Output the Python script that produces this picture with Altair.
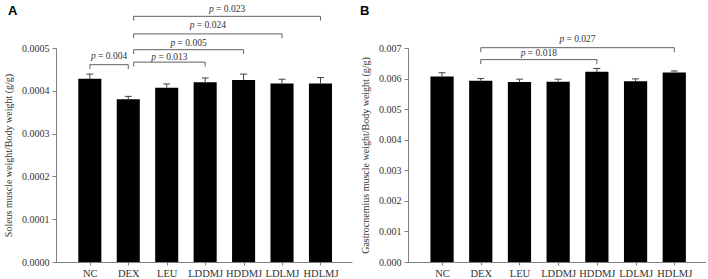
import json

import altair as alt
import pandas as pd

# Treatment groups shown on both panels
groups = ["NC", "DEX", "LEU", "LDDMJ", "HDDMJ", "LDLMJ", "HDLMJ"]

# Panel A: soleus muscle weight / body weight (g/g), mean and SEM
soleus_mean = [0.000428, 0.000380, 0.000407, 0.000420, 0.000425, 0.000417, 0.000417]
soleus_sem = [0.000011, 0.000007, 0.000009, 0.000010, 0.000014, 0.000010, 0.000014]
soleus_pairs = [("NC", "DEX"), ("DEX", "LDDMJ"), ("DEX", "HDDMJ"), ("DEX", "LDLMJ"), ("DEX", "HDLMJ")]
soleus_p = ["0.004", "0.013", "0.005", "0.024", "0.023"]
soleus_bracket_y = [0.000461, 0.000467, 0.000496, 0.000533, 0.000574]
soleus_label_y = [0.000482, 0.000480, 0.000512, 0.000553, 0.000590]
soleus_ticks = [0.0, 0.0001, 0.0002, 0.0003, 0.0004, 0.0005]

# Panel B: gastrocnemius muscle weight / body weight (g/g), mean and SEM
gastro_mean = [0.00607, 0.00593, 0.00589, 0.00590, 0.00622, 0.00591, 0.00620]
gastro_sem = [0.00012, 0.00007, 0.00009, 0.00008, 0.00011, 0.00008, 0.00005]
gastro_pairs = [("DEX", "HDDMJ"), ("DEX", "HDLMJ")]
gastro_p = ["0.018", "0.027"]
gastro_bracket_y = [0.00662, 0.00701]
gastro_label_y = [0.00685, 0.00731]
gastro_ticks = [0.0, 0.001, 0.002, 0.003, 0.004, 0.005, 0.006, 0.007]

SERIF = "Liberation Serif"
AXIS_GRAY = "#808080"
BRACKET_GRAY = "#606060"
BAR_HALF = 0.30        # half bar width, in category units
CAP_HALF = 0.09        # half error-bar cap width
NUDGE = 0.14           # shift for a bracket that starts where another ends
X_DOMAIN = [-0.88, 6.82]
PLOT_H = 214


def panel(letter, means, sems, pairs, pvals, bracket_y, label_y, drop,
          ticks, fmt, title, width):
    bars = pd.DataFrame({
        "group": groups,
        "idx": list(range(len(groups))),
        "mean": means,
    })
    bars["top"] = bars["mean"] + pd.Series(sems)
    bars["left"] = bars["idx"] - BAR_HALF
    bars["right"] = bars["idx"] + BAR_HALF
    bars["capl"] = bars["idx"] - CAP_HALF
    bars["capr"] = bars["idx"] + CAP_HALF

    right_ends = {b for _, b in pairs}
    rows = []
    for (a, b), p, by, ly in zip(pairs, pvals, bracket_y, label_y):
        x1 = groups.index(a) + (NUDGE if a in right_ends else 0.0)
        x2 = groups.index(b)
        rows.append({"x1": x1, "x2": x2, "mid": (x1 + x2) / 2, "y": by,
                     "ylow": by - drop, "ly": ly, "eq": "= " + p})
    br = pd.DataFrame(rows)

    xscale = alt.Scale(domain=X_DOMAIN, nice=False, zero=False)
    yscale = alt.Scale(domain=[ticks[0], ticks[-1]], nice=False, zero=True)
    xaxis = alt.Axis(values=list(range(len(groups))),
                     labelExpr=json.dumps(groups) + "[datum.value]",
                     title=None, grid=False, tickSize=3, labelPadding=3,
                     labelFontSize=10.5)
    yaxis = alt.Axis(values=ticks, format=fmt, title=title, grid=False,
                     tickSize=4, labelPadding=3, titlePadding=8)

    def X(field):
        return alt.X(field, type="quantitative", scale=xscale, axis=xaxis)

    def Y(field):
        return alt.Y(field, type="quantitative", scale=yscale, axis=yaxis)

    base = alt.Chart(bars)
    bar_layer = base.mark_rect(color="black").encode(
        x=X("left"), x2="right", y=Y("mean"), y2=alt.datum(0))
    err = base.mark_rule(color="#404040", strokeWidth=1).encode(
        x=X("idx"), y=Y("mean"), y2="top")
    cap = base.mark_rule(color="#404040", strokeWidth=1).encode(
        x=X("capl"), x2="capr", y=Y("top"))

    bbase = alt.Chart(br)
    hline = bbase.mark_rule(color=BRACKET_GRAY, strokeWidth=1).encode(
        x=X("x1"), x2="x2", y=Y("y"))
    lleg = bbase.mark_rule(color=BRACKET_GRAY, strokeWidth=1).encode(
        x=X("x1"), y=Y("y"), y2="ylow")
    rleg = bbase.mark_rule(color=BRACKET_GRAY, strokeWidth=1).encode(
        x=X("x2"), y=Y("y"), y2="ylow")
    p_it = bbase.mark_text(font=SERIF, fontSize=9.5, fontStyle="italic",
                           align="right", baseline="middle", dx=-13.3,
                           color="#333333").encode(
        x=X("mid"), y=Y("ly"), text=alt.value("p"))
    p_rest = bbase.mark_text(font=SERIF, fontSize=9.5, align="left",
                             baseline="middle", dx=-11, color="#333333").encode(
        x=X("mid"), y=Y("ly"), text="eq:N")

    tag = alt.Chart(pd.DataFrame({"t": [letter]})).mark_text(
        font="Liberation Sans", fontWeight="bold", fontSize=13,
        align="left", baseline="top", color="black").encode(
        x=alt.value(-48), y=alt.value(-43), text="t:N")

    return alt.layer(bar_layer, err, cap, hline, lleg, rleg, p_it, p_rest, tag
                     ).properties(width=width, height=PLOT_H)


left = panel("A", soleus_mean, soleus_sem, soleus_pairs, soleus_p,
             soleus_bracket_y, soleus_label_y, 0.00001, soleus_ticks, ".4f",
             "Soleus muscle weight/Body weight (g/g)", 296)
right = panel("B", gastro_mean, gastro_sem, gastro_pairs, gastro_p,
              gastro_bracket_y, gastro_label_y, 0.00015, gastro_ticks, ".3f",
              "Gastrocnemius muscle weight/Body weight (g/g)", 298)

chart = alt.hconcat(left, right, spacing=8).properties(
    padding={"left": 3, "top": 4, "right": 0, "bottom": 0}
).configure_view(stroke=None).configure_axis(
    domainColor=AXIS_GRAY, tickColor=AXIS_GRAY, labelFont=SERIF,
    titleFont=SERIF, labelFontSize=10, titleFontSize=10,
    titleFontWeight="normal", labelColor="#333333", titleColor="#333333",
)

chart.save("out.html", embed_options={"renderer": "svg", "actions": False})
